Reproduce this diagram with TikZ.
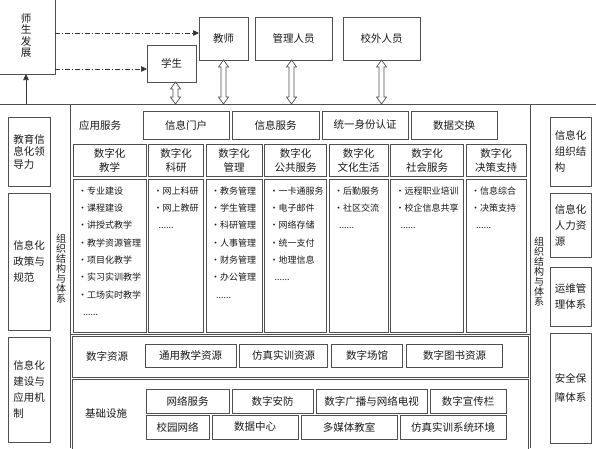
\documentclass[tikz,border=0pt]{standalone}
\usepackage{fontspec}
\setmainfont{Noto Sans CJK SC}
\usepackage{tikz}
\usetikzlibrary{arrows.meta,positioning,calc}
\definecolor{linegray}{HTML}{505050}
\definecolor{textgray}{HTML}{1A1A1A}
% hollow double-headed arrow from a node anchor down to the bus line
\newcommand\hollowarrow[2]{%
  \draw[hollow] let \p1=#1, \p2=#2 in
    (\x1,\y1) -- ({\x1+5pt},{\y1-7pt}) -- ({\x1+2.5pt},{\y1-7pt})
    -- ({\x1+2.5pt},{\y2+7pt}) -- ({\x1+5pt},{\y2+7pt}) -- (\x1,\y2)
    -- ({\x1-5pt},{\y2+7pt}) -- ({\x1-2.5pt},{\y2+7pt})
    -- ({\x1-2.5pt},{\y1-7pt}) -- ({\x1-5pt},{\y1-7pt}) -- cycle;}

\begin{document}
\begin{tikzpicture}[x=1pt,y=-1pt,
  node distance=3pt,
  box/.style={draw=linegray,line width=.8pt,fill=white,inner sep=0pt,outer sep=0pt,
    align=center,text=textgray,font=\fontsize{10.5}{13}\selectfont},
  person/.style={box,minimum height=43pt,font=\fontsize{10.5}{13}\selectfont},
  svc/.style={box,minimum height=28pt},
  head/.style={box,minimum height=32pt,font=\fontsize{10.5}{14}\selectfont},
  pane/.style={box,minimum height=153pt},
  res/.style={box,minimum height=23pt},
  infra/.style={box,minimum height=24pt},
  side/.style={box,align=left,minimum width=42pt,font=\fontsize{10.5}{16}\selectfont},
  items/.style={anchor=north west,align=left,inner sep=0pt,text=textgray,
    font=\fontsize{9}{17.3}\selectfont,xshift=5pt,yshift=-7.5pt},
  rowlabel/.style={text=textgray,font=\fontsize{10.5}{12}\selectfont},
  vtext/.style={align=center,inner sep=0pt,text=textgray,font=\fontsize{10}{10}\selectfont},
  frame/.style={draw=linegray,line width=1pt},
  dashflow/.style={draw=black!80,line width=.7pt,dash pattern=on 5pt off 2pt on 1pt off 2pt,
    -{Triangle[length=6pt,width=5.5pt]}},
  upflow/.style={draw=black!80,line width=.7pt,-{Triangle[length=6pt,width=5.5pt]}},
  hollow/.style={draw=linegray,fill=white,line width=.7pt}
]
\useasboundingbox (0,0) rectangle (596,448);
\clip (0,0) rectangle (596,448);

% top: people
\node[box,minimum width=58pt,minimum height=77pt,font=\fontsize{10.5}{11.5}\selectfont] (fazhan) at (26,35.5) {师\\生\\发\\展};
\node[person,minimum width=49pt,minimum height=37pt] (xuesheng) at (171.5,63.5) {学生};
\node[person,minimum width=49pt] (jiaoshi) at (223.5,38.5) {教师};
\node[person,minimum width=77pt,right=7pt of jiaoshi] (guanli) {管理人员};
\node[person,minimum width=77pt,right=11pt of guanli] (xiaowai) {校外人员};

\coordinate (bus) at (0,104);
\coordinate (busR) at (596,104);
\draw[frame] (bus) -- (busR);

\coordinate (toT) at ([yshift=5.5pt]jiaoshi.west);
\coordinate (toS) at ([yshift=-5.5pt]xuesheng.west);
\draw[dashflow] (fazhan.east |- toT) -- (toT);
\draw[dashflow] (fazhan.east |- toS) -- (toS);
\draw[upflow] (fazhan.south |- bus) -- (fazhan.south);

\hollowarrow{([xshift=4pt]xuesheng.south)}{(xuesheng.south |- bus)}
\hollowarrow{(jiaoshi.south)}{(jiaoshi.south |- bus)}
\hollowarrow{([xshift=-2pt]guanli.south)}{(guanli.south |- bus)}
\hollowarrow{(xiaowai.south)}{(xiaowai.south |- bus)}

% frames of the three layers
\draw[frame] (70,104) -- (70,448);
\draw[frame] (530,104) -- (530,448);
\draw[frame] (70,334) -- (530,334);
\draw[frame] (72,336) rectangle (528,377);
\draw[frame] (72,379) rectangle (528,452);

% application services
\node[rowlabel] (yyfw) at (100,125) {应用服务};
\node[svc,minimum width=86pt] (menhu) at (186,125) {信息门户};
\node[svc,minimum width=87pt,right=of menhu] (xxfw) {信息服务};
\node[svc,minimum width=86pt,right=of xxfw] (renzheng) {统一身份认证};
\node[svc,minimum width=86pt,right=of renzheng] (jiaohuan) {数据交换};

\node[head,minimum width=73pt] (h1) at (109.5,160) {数字化\\教学};
\node[head,minimum width=55pt,right=2.5pt of h1] (h2) {数字化\\科研};
\node[head,minimum width=56pt,right=2.5pt of h2] (h3) {数字化\\管理};
\node[head,minimum width=62pt,right=2.5pt of h3] (h4) {数字化\\公共服务};
\node[head,minimum width=59pt,right=2.5pt of h4] (h5) {数字化\\文化生活};
\node[head,minimum width=73pt,right=2.5pt of h5] (h6) {数字化\\社会服务};
\node[head,minimum width=60pt,right=2.5pt of h6] (h7) {数字化\\决策支持};

\node[pane,minimum width=73pt,below=of h1] (p1) {};
\node[pane,minimum width=55pt,below=of h2] (p2) {};
\node[pane,minimum width=56pt,below=of h3] (p3) {};
\node[pane,minimum width=62pt,below=of h4] (p4) {};
\node[pane,minimum width=59pt,below=of h5] (p5) {};
\node[pane,minimum width=73pt,below=of h6] (p6) {};
\node[pane,minimum width=60pt,below=of h7] (p7) {};

\node[items] (i1) at (p1.north west) {•专业建设\\•课程建设\\•讲授式教学\\•教学资源管理\\•项目化教学\\•实习实训教学\\•工场实时教学\\\hspace*{5pt}......};
\node[items] (i2) at (p2.north west) {•网上科研\\•网上教研\\\hspace*{5pt}......};
\node[items] (i3) at (p3.north west) {•教务管理\\•学生管理\\•科研管理\\•人事管理\\•财务管理\\•办公管理\\\hspace*{5pt}......};
\node[items] (i4) at (p4.north west) {•一卡通服务\\•电子邮件\\•网络存储\\•统一支付\\•地理信息\\\hspace*{5pt}......};
\node[items] (i5) at (p5.north west) {•后勤服务\\•社区交流\\\hspace*{5pt}......};
\node[items] (i6) at (p6.north west) {•远程职业培训\\•校企信息共享\\\hspace*{5pt}......};
\node[items] (i7) at (p7.north west) {•信息综合\\•决策支持\\\hspace*{5pt}......};

% digital resources
\node[rowlabel] (szzy) at (107,356) {数字资源};
\node[res,minimum width=91pt] (r1) at (190.5,355.5) {通用教学资源};
\node[res,minimum width=88pt,right=3.5pt of r1] (r2) {仿真实训资源};
\node[res,minimum width=71pt,right=4pt of r2] (r3) {数字场馆};
\node[res,minimum width=96pt,right=4pt of r3] (r4) {数字图书资源};

% infrastructure
\node[rowlabel] (jcss) at (106,414) {基础设施};
\node[infra,minimum width=83pt] (a1) at (187.5,401) {网络服务};
\node[infra,minimum width=81pt,right=of a1] (a2) {数字安防};
\node[infra,minimum width=111pt,right=of a2] (a3) {数字广播与网络电视};
\node[infra,minimum width=76pt,right=of a3] (a4) {数字宣传栏};
\node[infra,minimum width=63pt] (b1) at (177.5,427) {校园网络};
\node[infra,minimum width=86pt,right=of b1] (b2) {数据中心};
\node[infra,minimum width=96pt,right=of b2] (b3) {多媒体教室};
\node[infra,minimum width=106pt,right=of b3] (b4) {仿真实训系统环境};

% left and right columns
\node[side,minimum height=69pt,font=\fontsize{10.5}{12.5}\selectfont] (lingdao) at (29,151.5) {教育信\\息化领\\导力};
\node[side,minimum height=137pt] (zhengce) at (29,261.5) {信息化\\政策与\\规范};
\node[side,minimum height=105pt] (jizhi) at (29,389.5) {信息化\\建设与\\应用机\\制};
\node[side,minimum width=41pt,minimum height=69pt] (zuzhi) at (570.5,151.5) {信息化\\组织结\\构};
\node[side,minimum width=41pt,minimum height=64pt] (renli) at (570.5,225) {信息化\\人力资\\源};
\node[side,minimum width=41pt,minimum height=59pt] (yunwei) at (570.5,296.5) {运维管\\理体系};
\node[side,minimum width=41pt,minimum height=110pt,font=\fontsize{10.5}{19}\selectfont] (anquan) at (570.5,388) {安全保\\障体系};

\node[vtext] (tixiL) at (61,269) {组\\织\\结\\构\\与\\体\\系};
\node[vtext] (tixiR) at (539,272) {组\\织\\结\\构\\与\\体\\系};
\end{tikzpicture}
\end{document}
